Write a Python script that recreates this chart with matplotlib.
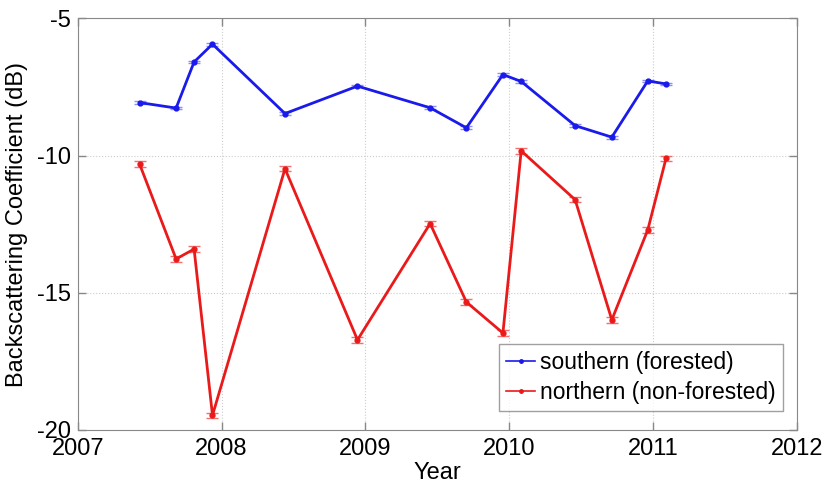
import matplotlib
matplotlib.use("Agg")
import matplotlib.pyplot as plt
from matplotlib.lines import Line2D

plt.rcParams['font.family'] = ['Liberation Sans', 'DejaVu Sans']

# Acquisition dates (decimal year)
dates = [2007.43, 2007.684, 2007.809, 2007.937, 2008.441, 2008.945, 2009.45,
         2009.702, 2009.956, 2010.083, 2010.458, 2010.713, 2010.963, 2011.09]

# Mean backscatter (dB) and error half-widths
southern = [-8.07, -8.27, -6.59, -5.94, -8.47, -7.47, -8.26,
            -8.99, -7.05, -7.30, -8.91, -9.33, -7.28, -7.39]
southern_err = [0.05] * 14
northern = [-10.31, -13.77, -13.41, -19.47, -10.48, -16.72, -12.48,
            -15.34, -16.47, -9.83, -11.61, -15.99, -12.71, -10.10]
northern_err = [0.1] * 14

labels = ['southern (forested)', 'northern (non-forested)']
xticks = [2007, 2008, 2009, 2010, 2011, 2012]
yticks = [-20, -15, -10, -5]

blue, red = '#1a1aeb', '#eb1a1a'

fig = plt.figure(figsize=(8.25, 4.83), dpi=100)
ax = fig.add_axes([0.0942, 0.110, 0.8718, 0.852])

ax.errorbar(dates, southern, yerr=southern_err, fmt='none',
            ecolor='#8f8ff5', elinewidth=1, capsize=4)
ax.errorbar(dates, northern, yerr=northern_err, fmt='none',
            ecolor='#f07070', elinewidth=1, capsize=4)
ax.plot(dates, southern, color=blue, lw=2, marker='o', ms=3.5)
ax.plot(dates, northern, color=red, lw=2, marker='o', ms=3.5)

ax.set_xlim(2007, 2012)
ax.set_ylim(-20, -5)
ax.set_xticks(xticks)
ax.set_xticklabels([str(t) for t in xticks])
ax.set_yticks(yticks)
ax.set_yticklabels([str(t) for t in yticks])
ax.tick_params(direction='in', top=True, right=True, length=6, width=1,
               color='#888888', labelsize=17)
ax.tick_params(axis='x', pad=6)
ax.tick_params(axis='y', pad=5)
ax.grid(True, linestyle=':', color='#cccccc', linewidth=0.8)
for s in ax.spines.values():
    s.set_color('#888888')

ax.set_xlabel('Year', fontsize=17, labelpad=1)
ax.set_ylabel('Backscattering Coefficient (dB)', fontsize=17, labelpad=6)

handles = [Line2D([], [], color=blue, lw=1.2, marker='o', ms=2.5),
           Line2D([], [], color=red, lw=1.2, marker='o', ms=2.5)]
leg = ax.legend(handles, labels, loc='lower right', fontsize=16.5,
                frameon=True, fancybox=False, edgecolor='#888888',
                borderpad=0.3, handlelength=1.3, handletextpad=0.2,
                labelspacing=0.3, borderaxespad=0,
                bbox_to_anchor=(0.98, 0.046))
leg.get_frame().set_linewidth(1)

fig.savefig('out.png', dpi=100)
